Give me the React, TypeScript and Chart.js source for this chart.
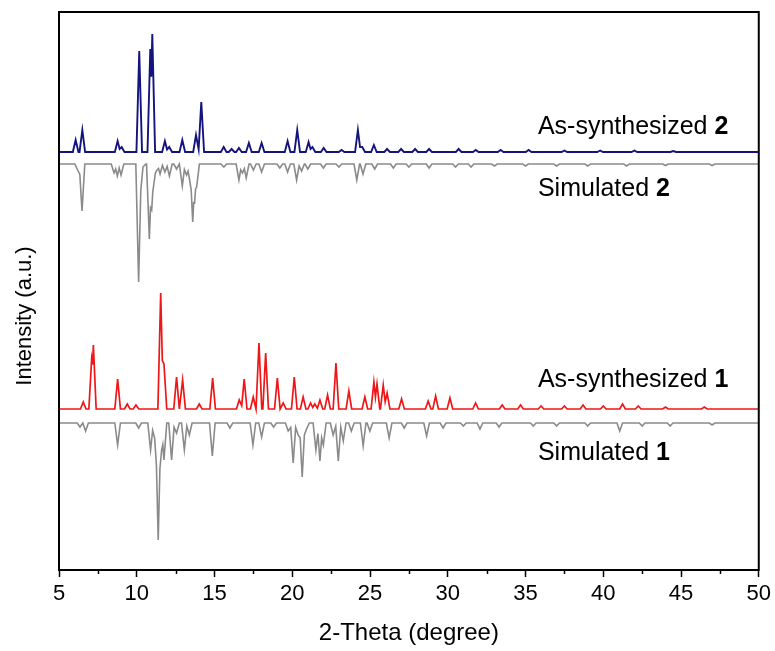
import React, { useEffect, useRef } from "react";
import { Chart, registerables } from "chart.js";

Chart.register(...registerables);

const FONT = "'Liberation Sans', Arial, Helvetica, sans-serif";

// x axis
const xMin = 5;
const xMax = 50;
const xTickStep = 5;
const minorTicks = [7.5, 12.5, 17.5, 22.5, 27.5, 32.5, 37.5, 42.5, 47.5];

// As-synthesized 2 (peak 2θ, intensity a.u.)
const as2Pos = [6.07, 6.5, 8.77, 9.03, 10.16, 10.87, 11.0, 11.81, 12.09, 12.93, 13.81, 14.15, 15.59, 16.1, 16.57, 17.21, 18.03, 19.7, 20.32, 21.05, 21.3, 22.02, 23.17, 24.22, 24.5, 25.25, 26.1, 27.0, 27.9, 28.8, 30.7, 31.8, 33.4, 35.2, 37.5, 39.8, 42.0, 44.5];
const as2Int = [12, 22, 11, 5, 101, 103, 118, 11, 5, 12, 17, 50, 5, 3, 4, 9, 9, 11, 22, 10, 5, 4, 2, 22, 5, 7, 3, 3, 3, 3, 3, 2, 2, 2, 1.5, 1.5, 1.5, 1];

// Simulated 2
const sim2Pos = [6.2, 6.48, 8.54, 8.75, 8.99, 10.12, 10.4, 10.81, 10.96, 11.1, 11.3, 11.5, 11.81, 12.1, 12.56, 12.93, 13.2, 13.4, 13.6, 13.72, 13.85, 15.6, 16.57, 16.8, 17.04, 17.5, 18.03, 19.2, 19.7, 20.28, 20.6, 21.0, 22.0, 23.0, 24.15, 24.55, 25.3, 26.5, 27.5, 28.8, 30.5, 31.5, 33.0, 35.0, 37.0, 39.0, 41.5, 44.0, 47.0];
const sim2Int = [6, 47, 9, 12, 11, 118, 3, 75, 46, 20, 6, 10, 8, 12, 5, 22, 11, 16, 58, 39, 23, 3, 16, 9, 14, 6, 8, 4, 8, 16, 7, 5, 4, 3, 16, 10, 5, 4, 3, 4, 3, 3, 2, 2, 2, 2, 2, 1.5, 1.5];

// As-synthesized 1
const as1Pos = [6.56, 7.1, 7.21, 8.77, 9.39, 9.95, 11.54, 11.75, 12.56, 12.95, 14.02, 14.88, 16.59, 16.91, 17.49, 17.86, 18.29, 19.04, 19.42, 20.13, 20.7, 21.18, 21.45, 21.78, 22.27, 22.81, 23.64, 24.67, 25.25, 25.45, 25.85, 26.1, 27.03, 28.74, 29.22, 30.14, 31.79, 33.5, 34.68, 36.0, 37.5, 38.7, 40.0, 41.24, 42.25, 44.0, 46.5];
const as1Int = [7, 50, 64, 30, 5, 4, 116, 45, 32, 29, 5, 31, 9, 30, 12, 66, 56, 31, 6, 32, 12, 6, 5, 9, 14, 46, 18, 12, 27, 25, 24, 16, 10, 8, 13, 11, 6, 4, 4, 3, 3, 4, 3, 5, 3, 2, 2];

// Simulated 1
const sim1Pos = [6.35, 6.71, 8.77, 10.12, 10.89, 11.15, 11.38, 11.6, 11.75, 12.24, 12.56, 13.06, 13.38, 14.86, 15.99, 17.47, 18.03, 18.8, 19.74, 20.06, 20.38, 20.64, 20.92, 21.52, 21.78, 22.0, 22.63, 22.96, 23.28, 23.8, 24.56, 24.99, 26.23, 27.2, 28.64, 29.7, 31.0, 32.07, 33.3, 35.5, 37.0, 39.0, 41.06, 42.5, 44.3, 47.0];
const sim1Int = [4, 8, 22, 5, 27, 15, 117, 27, 37, 37, 10, 27, 12, 33, 5, 22, 14, 4, 8, 40, 12, 54, 6, 27, 38, 22, 12, 38, 18, 8, 23, 8, 15, 5, 13, 5, 3, 6, 4, 3, 3, 3, 8, 3, 3, 2];

// vertical offsets of the stacked patterns (a.u.)
const as2Offset = 418;
const sim2Offset = 406;
const as1Offset = 161;
const sim1Offset = 147;
const yMin = 0;
const yMax = 558;

const seriesNames = ["As-synthesized 2", "Simulated 2", "As-synthesized 1", "Simulated 1"];

const PEAK_HALF_WIDTH = 0.18;

function buildPattern(pos: number[], inten: number[], base: number, sign: number) {
  const w = PEAK_HALF_WIDTH;
  const pts: { x: number; y: number }[] = [{ x: xMin, y: base }];
  for (let i = 0; i < pos.length; i++) {
    if (i > 0 && pos[i] - pos[i - 1] < 2 * w) {
      const gap = pos[i] - pos[i - 1];
      const f = Math.max(0, 1 - gap / 2 / w);
      const v = Math.max(inten[i - 1] * f, inten[i] * f);
      pts.push({ x: (pos[i] + pos[i - 1]) / 2, y: base + sign * v });
    } else {
      if (i > 0) pts.push({ x: pos[i - 1] + w, y: base });
      pts.push({ x: pos[i] - w, y: base });
    }
    pts.push({ x: pos[i], y: base + sign * inten[i] });
  }
  pts.push({ x: pos[pos.length - 1] + w, y: base });
  pts.push({ x: xMax, y: base });
  return pts;
}

const labels = [
  { main: "As-synthesized ", num: "2", x: 35.8, y: 442.5 },
  { main: "Simulated ", num: "2", x: 35.8, y: 381 },
  { main: "As-synthesized ", num: "1", x: 35.8, y: 190 },
  { main: "Simulated ", num: "1", x: 35.8, y: 117 },
];

const overlay = {
  id: "overlay",
  afterDraw(chart: any) {
    const { ctx, chartArea: a, scales } = chart;
    const xs = scales.x;
    const ys = scales.y;
    ctx.save();
    ctx.strokeStyle = "#000";
    ctx.lineWidth = 2;
    ctx.strokeRect(a.left, a.top, a.right - a.left, a.bottom - a.top);
    ctx.lineWidth = 1.5;
    for (const v of minorTicks) {
      const px = Math.round(xs.getPixelForValue(v)) + 0.5;
      ctx.beginPath();
      ctx.moveTo(px, a.bottom);
      ctx.lineTo(px, a.bottom + 4);
      ctx.stroke();
    }
    ctx.fillStyle = "#000";
    ctx.textBaseline = "middle";
    ctx.textAlign = "left";
    for (const l of labels) {
      const px = xs.getPixelForValue(l.x);
      const py = ys.getPixelForValue(l.y);
      ctx.font = `25px ${FONT}`;
      ctx.fillText(l.main, px, py);
      const w = ctx.measureText(l.main).width;
      ctx.font = `bold 25px ${FONT}`;
      ctx.fillText(l.num, px + w, py);
    }
    ctx.translate(a.left - 34, (a.top + a.bottom) / 2 + 25);
    ctx.rotate(-Math.PI / 2);
    ctx.textAlign = "center";
    ctx.font = `22px ${FONT}`;
    ctx.fillText("Intensity (a.u.)", 0, 0);
    ctx.restore();
  },
};

export default function App() {
  const ref = useRef<HTMLCanvasElement | null>(null);
  useEffect(() => {
    if (!ref.current) return;
    const mk = (i: number, data: any, color: string, width: number) => ({
      label: seriesNames[i],
      data,
      borderColor: color,
      borderWidth: width,
      pointRadius: 0,
      tension: 0,
      fill: false,
    });
    const chart = new Chart(ref.current, {
      type: "line",
      data: {
        datasets: [
          mk(0, buildPattern(as2Pos, as2Int, as2Offset, 1), "#14147f", 1.9),
          mk(1, buildPattern(sim2Pos, sim2Int, sim2Offset, -1), "#8a8a8a", 1.6),
          mk(2, buildPattern(as1Pos, as1Int, as1Offset, 1), "#ee1616", 1.7),
          mk(3, buildPattern(sim1Pos, sim1Int, sim1Offset, -1), "#8a8a8a", 1.6),
        ],
      },
      options: {
        responsive: false,
        animation: false,
        parsing: false,
        normalized: true,
        layout: { padding: { top: 12, right: 16, left: 0, bottom: 0 } },
        plugins: { legend: { display: false }, tooltip: { enabled: false } },
        scales: {
          x: {
            type: "linear",
            min: xMin,
            max: xMax,
            afterFit: (s: any) => { s.height = 81; },
            ticks: {
              stepSize: xTickStep,
              color: "#000",
              font: { family: FONT, size: 22 },
              padding: 4,
              maxRotation: 0,
            },
            grid: { drawOnChartArea: false, drawTicks: true, tickLength: 7, tickColor: "#000", tickWidth: 1.5 },
            border: { display: true, color: "#000", width: 2 },
            title: {
              display: true,
              text: "2-Theta (degree)",
              color: "#000",
              font: { family: FONT, size: 24 },
              padding: { top: 0, bottom: 3 },
            },
          },
          y: {
            type: "linear",
            min: yMin,
            max: yMax,
            afterFit: (s: any) => { s.width = 59; },
            ticks: { display: false },
            grid: { display: false },
            border: { display: true, color: "#000", width: 2 },
          },
        },
      },
      plugins: [overlay],
    } as any);
    return () => chart.destroy();
  }, []);
  return (
    <div style={{ position: "fixed", left: 0, top: 0, width: 775, height: 651, background: "#fff" }}>
      <canvas ref={ref} width={775} height={651} style={{ display: "block" }} />
    </div>
  );
}
